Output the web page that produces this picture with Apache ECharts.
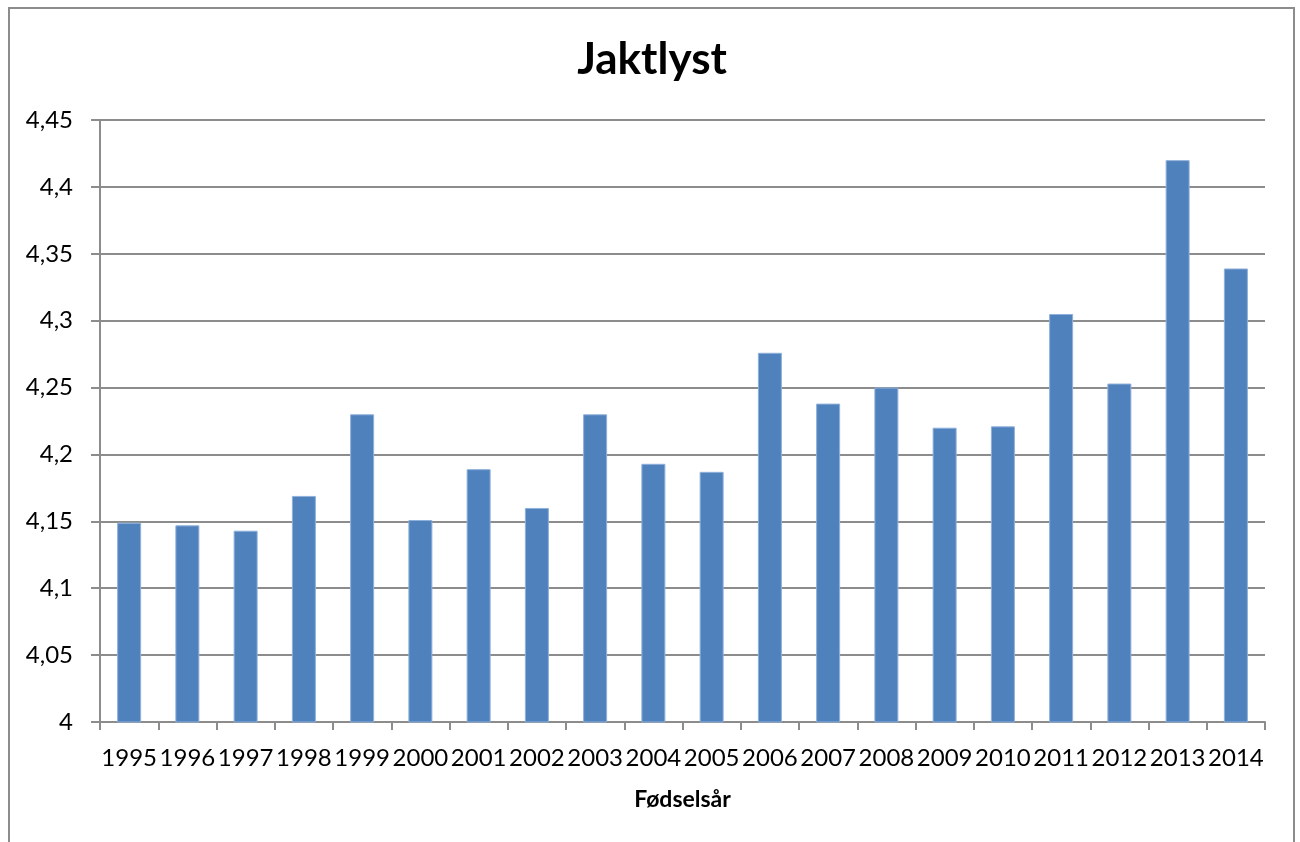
<!DOCTYPE html>
<html>
<head>
<meta charset="utf-8">
<script src="https://cdn.jsdelivr.net/npm/echarts@6/dist/echarts.min.js"></script>
<style>
html,body{margin:0;padding:0;background:#fff;}
#c{width:1300px;height:842px;}
</style>
</head>
<body>
<div id="c"></div>
<script>
const titleText = "Jaktlyst";
const xAxisTitle = "Fødselsår";
const years = ["1995","1996","1997","1998","1999","2000","2001","2002","2003","2004","2005","2006","2007","2008","2009","2010","2011","2012","2013","2014"];
const values = [4.149,4.147,4.143,4.169,4.230,4.151,4.189,4.160,4.230,4.193,4.187,4.276,4.238,4.250,4.220,4.221,4.305,4.253,4.420,4.339];
const yMin = 4, yMax = 4.45, yStep = 0.05;

const chart = echarts.init(document.getElementById('c'), null, {renderer:'canvas'});
chart.setOption({
  animation:false,
  backgroundColor:'#fff',
  title:{
    text:titleText, left:647, top:33, textAlign:'center',
    textStyle:{fontFamily:'Lato', fontWeight:'bold', fontSize:44, color:'#000'}
  },
  graphic:[{
    type:'rect', silent:true,
    shape:{x:9, y:8, width:1285, height:850},
    style:{fill:'none', stroke:'#8c8c8c', lineWidth:2}
  }],
  grid:{left:100, right:35, top:120, bottom:120, containLabel:false},
  xAxis:{
    type:'category', data:years,
    name:xAxisTitle, nameLocation:'middle', nameGap:66,
    nameTextStyle:{fontFamily:'Lato', fontWeight:'bold', fontSize:23, color:'#000'},
    axisLine:{lineStyle:{color:'#8c8c8c', width:2}},
    axisTick:{show:true, length:8, lineStyle:{color:'#8c8c8c', width:2}},
    axisLabel:{fontFamily:'Lato', fontSize:24, color:'#000', margin:24, interval:0}
  },
  yAxis:{
    type:'value', min:yMin, max:yMax, interval:yStep,
    axisLine:{show:true, lineStyle:{color:'#8c8c8c', width:2}},
    axisTick:{show:true, length:9, lineStyle:{color:'#8c8c8c', width:2}},
    axisLabel:{fontFamily:'Lato', fontSize:24, color:'#000', margin:27,
      formatter:v => String(+v.toFixed(2)).replace('.', ',')},
    splitLine:{show:true, lineStyle:{color:'#8c8c8c', width:2}}
  },
  series:[{
    type:'bar', data:values, barWidth:24,
    itemStyle:{color:'#4F81BD', borderColor:'#8fb0da', borderWidth:1}
  }]
});
</script>
</body>
</html>
